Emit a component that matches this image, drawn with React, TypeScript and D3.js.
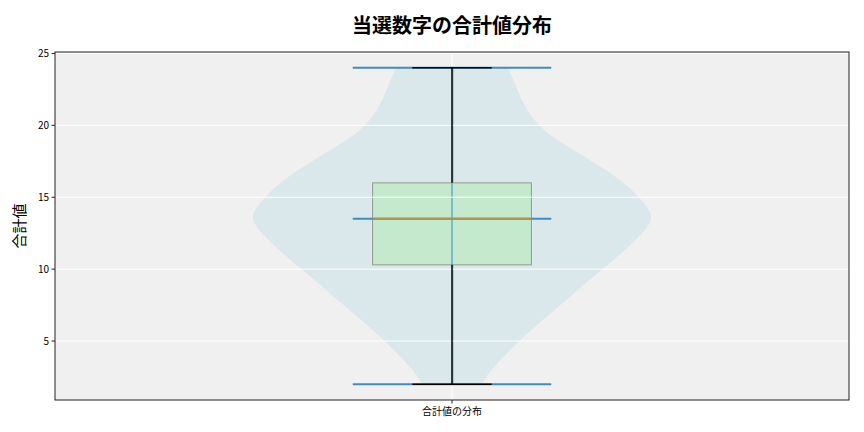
import React from "react";
import * as d3 from "d3";

const title = "当選数字の合計値分布";
const yLabel = "合計値";
const categories = ["合計値の分布"];
const yTicks = [5, 10, 15, 20, 25];

// box statistics
const minVal = 2;
const q1Val = 10.3;
const medianVal = 13.5;
const q3Val = 16;
const maxVal = 24;

// violin density profile (value, relative half-width)
const violinValues = [2.0, 2.5, 3.0, 3.9, 4.9, 6.5, 7.65, 8.76, 10.0, 10.84, 11.82, 12.72, 13.49, 14.18, 15.02, 15.85, 16.96, 18.15, 19.05, 20.02, 21.41, 22.81, 23.5, 24.0];
const violinWidths = [0.15, 0.17, 0.2, 0.26, 0.33, 0.46, 0.56, 0.65, 0.76, 0.83, 0.91, 0.975, 1.01, 0.995, 0.94, 0.88, 0.77, 0.63, 0.52, 0.43, 0.36, 0.32, 0.3, 0.28];

const W = 864;
const H = 432;
const m = { left: 55, right: 15, top: 52, bottom: 32 };

export default function App() {
  const x = d3.scaleLinear().domain([0.5, 1.5]).range([m.left, W - m.right]);
  const y = d3.scaleLinear().domain([0.9, 25.1]).range([H - m.bottom, m.top]);
  const pos = 1;
  const cx = x(pos);
  const violinHalf = 0.25;
  const pts = violinValues.map((v, i) => ({ v, w: violinWidths[i] }));
  const area = d3
    .area<{ v: number; w: number }>()
    .y((d) => y(d.v))
    .x0((d) => x(pos - violinHalf * d.w))
    .x1((d) => x(pos + violinHalf * d.w))
    .curve(d3.curveBasis);
  const extHalf = violinHalf * 0.5;
  const boxHalf = 0.1;
  const capHalf = 0.05;
  const blue = "#3f8cc2";
  const font = "'Noto Sans CJK JP', 'Noto Sans', sans-serif";

  return (
    <svg width={W} height={H} style={{ position: "absolute", left: 0, top: 0, background: "#fff" }} fontFamily={font}>
      <rect x={m.left} y={m.top} width={W - m.left - m.right} height={H - m.top - m.bottom} fill="#f0f0f0" />
      {/* vertical grid */}
      <line x1={cx} x2={cx} y1={m.top} y2={H - m.bottom} stroke="#fff" strokeWidth={1} />
      {/* violin body */}
      <path d={area(pts) || ""} fill="#dae7eb" />
      {/* violin lines */}
      <line x1={cx + 1} x2={cx + 1} y1={y(minVal)} y2={y(maxVal)} stroke="#8cc6dc" strokeWidth={1.5} />
      {/* box */}
      <rect
        x={x(pos - boxHalf)}
        y={y(q3Val)}
        width={x(pos + boxHalf) - x(pos - boxHalf)}
        height={y(q1Val) - y(q3Val)}
        fill="#c5e9cd"
        stroke="#8d9c8f"
        strokeWidth={1}
      />
      <line x1={cx} x2={cx} y1={y(q3Val)} y2={y(q1Val)} stroke="#62adc6" strokeWidth={1.5} />
      {/* horizontal grid */}
      {yTicks.map((t) => (
        <line key={t} x1={m.left} x2={W - m.right} y1={y(t)} y2={y(t)} stroke="#fff" strokeWidth={1} />
      ))}
      {/* violin extrema / median */}
      {[minVal, maxVal, medianVal].map((v) => (
        <line key={v} x1={x(pos - extHalf)} x2={x(pos + extHalf)} y1={y(v)} y2={y(v)} stroke={blue} strokeWidth={2} />
      ))}
      {/* box median */}
      <line x1={x(pos - boxHalf)} x2={x(pos + boxHalf)} y1={y(medianVal)} y2={y(medianVal)} stroke="#ad9650" strokeWidth={2} />
      {/* whiskers */}
      <line x1={cx} x2={cx} y1={y(q3Val)} y2={y(maxVal)} stroke="#000" strokeWidth={1.5} />
      <line x1={cx} x2={cx} y1={y(q1Val)} y2={y(minVal)} stroke="#000" strokeWidth={1.5} />
      {[minVal, maxVal].map((v) => (
        <line key={"c" + v} x1={x(pos - capHalf)} x2={x(pos + capHalf)} y1={y(v)} y2={y(v)} stroke="#000" strokeWidth={1.5} />
      ))}
      {/* frame */}
      <rect x={m.left} y={m.top} width={W - m.left - m.right} height={H - m.top - m.bottom} fill="none" stroke="#222" strokeWidth={1} />
      {/* y ticks */}
      {yTicks.map((t) => (
        <g key={"t" + t}>
          <line x1={m.left - 3.5} x2={m.left} y1={y(t)} y2={y(t)} stroke="#222" />
          <text x={m.left - 6} y={y(t)} dy="0.35em" textAnchor="end" fontSize={10} fill="#000">
            {t}
          </text>
        </g>
      ))}
      {/* x tick */}
      {categories.map((c, i) => (
        <g key={c}>
          <line x1={x(i + 1)} x2={x(i + 1)} y1={H - m.bottom} y2={H - m.bottom + 3.5} stroke="#222" />
          <text x={x(i + 1)} y={H - m.bottom + 15} textAnchor="middle" fontSize={10} fill="#000">
            {c}
          </text>
        </g>
      ))}
      <text transform={`translate(25,${(m.top + H - m.bottom) / 2}) rotate(-90)`} textAnchor="middle" fontSize={15} fill="#000">
        {yLabel}
      </text>
      <text x={(m.left + W - m.right) / 2} y={33} textAnchor="middle" fontSize={20} fontWeight="bold" fill="#000">
        {title}
      </text>
    </svg>
  );
}
